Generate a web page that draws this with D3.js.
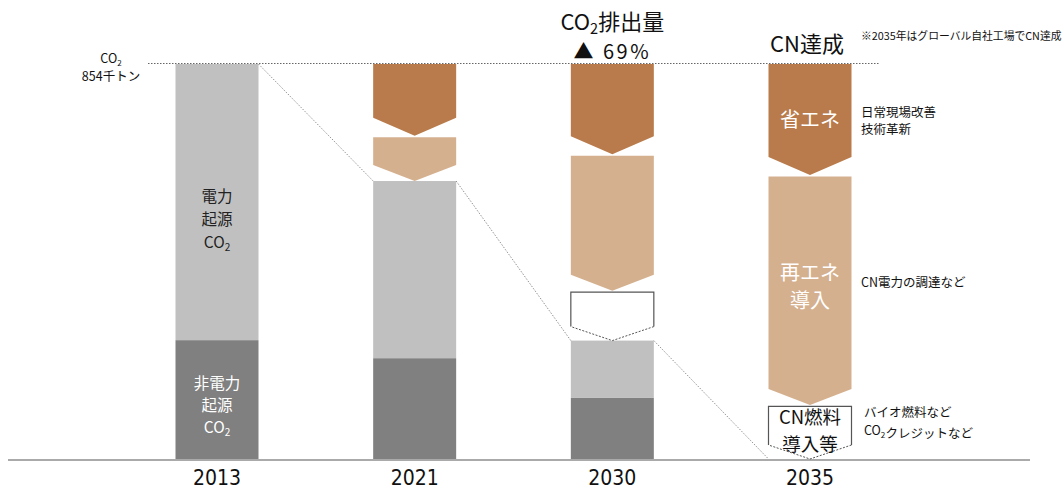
<!DOCTYPE html>
<html><head><meta charset="utf-8">
<script src="https://cdn.jsdelivr.net/npm/d3@7"></script>
<style>
html,body{margin:0;padding:0;background:#fff;}
svg{display:block;font-family:"Noto Sans CJK JP","Noto Sans",sans-serif;}
</style></head>
<body>
<svg id="chart" width="1063" height="490"></svg>
<script>
// ---- data (thousand tonnes CO2) ----
const years = ["2013", "2021", "2030", "2035"];
const nonElectric = [257, 218, 132, 0];
const electric = [597, 383, 124, 0];
const energySaving = [0, 155, 195, 240];
const renewable = [0, 98, 295, 497];
const cnFuel = [0, 0, 108, 117];
const baseTotal = 854;

const svg = d3.select("#chart");
const y = d3.scaleLinear().domain([0, baseTotal]).range([459, 64]);
const x = d3.scalePoint().domain(years).range([217, 810]);
const bw = 83;

const C = {brown:"#b97b4b", tan:"#d5b08f", light:"#c0c0c0", dark:"#808080"};

// baseline
svg.append("line").attr("x1", 8).attr("x2", 1030).attr("y1", y(0) + 1).attr("y2", y(0) + 1)
  .attr("stroke", "#aaa").attr("stroke-width", 2);

// top dotted line
svg.append("line").attr("x1", 148).attr("x2", 880).attr("y1", y(baseTotal) - 0.5).attr("y2", y(baseTotal) - 0.5)
  .attr("stroke", "#666").attr("stroke-width", 1).attr("stroke-dasharray", "1.5,1.5");

function chevron(x0, top, bottom, depth) {
  const x1 = x0 + bw, xm = x0 + bw / 2;
  return `M${x0},${top}L${x1},${top}L${x1},${bottom - depth}L${xm},${bottom}L${x0},${bottom - depth}Z`;
}

years.forEach((yr, i) => {
  const x0 = x(yr) - bw / 2;
  const g = svg.append("g");
  const remain = nonElectric[i] + electric[i];
  if (nonElectric[i] > 0) {
    g.append("rect").attr("x", x0).attr("width", bw)
      .attr("y", y(nonElectric[i])).attr("height", y(0) - y(nonElectric[i])).attr("fill", C.dark);
  }
  if (electric[i] > 0) {
    g.append("rect").attr("x", x0).attr("width", bw)
      .attr("y", y(remain)).attr("height", y(nonElectric[i]) - y(remain)).attr("fill", C.light);
  }
  let cur = baseTotal;
  let first = true;
  const segs = [
    {v: energySaving[i], fill: C.brown, depth: 18},
    {v: renewable[i], fill: C.tan, depth: 16},
    {v: cnFuel[i], fill: "#fff", depth: 14, outline: true}
  ];
  segs.forEach(s => {
    if (s.v <= 0) return;
    const top = y(cur) + (first ? 0 : 1.5);
    const bottom = y(cur - s.v);
    if (s.outline) {
      const x1 = x0 + bw, xm = x0 + bw / 2;
      g.append("path").attr("d", chevron(x0, top, bottom, s.depth)).attr("fill", "#fff");
      g.append("path").attr("d", `M${x0},${bottom - s.depth}L${x0},${top}L${x1},${top}L${x1},${bottom - s.depth}`)
        .attr("fill", "none").attr("stroke", "#555").attr("stroke-width", 1.2);
      g.append("path").attr("d", `M${x1},${bottom - s.depth}L${xm},${bottom}L${x0},${bottom - s.depth}`)
        .attr("fill", "none").attr("stroke", "#555").attr("stroke-width", 1).attr("stroke-dasharray", "2,1.5");
    } else {
      g.append("path").attr("d", chevron(x0, top, bottom, s.depth)).attr("fill", s.fill);
    }
    cur -= s.v;
    first = false;
  });
});

// diagonal dotted connectors
for (let i = 0; i < years.length - 1; i++) {
  const r0 = nonElectric[i] + electric[i];
  const r1 = nonElectric[i + 1] + electric[i + 1];
  svg.append("line")
    .attr("x1", x(years[i]) + bw / 2).attr("y1", y(r0))
    .attr("x2", x(years[i + 1]) - bw / 2).attr("y2", y(r1))
    .attr("stroke", "#777").attr("stroke-width", 0.8).attr("stroke-dasharray", "1.5,1.5");
}

// year labels
svg.append("g").selectAll("text").data(years).join("text")
  .attr("x", d => x(d)).attr("y", 485).attr("text-anchor", "middle")
  .style("font-family", "'Liberation Sans Narrow','DejaVu Sans Condensed',sans-serif")
  .style("font-size", "21px").attr("fill", "#111").text(d => d);

function label(lines, cx, cy0, lh, size, fill, anchor) {
  const t = svg.append("text").attr("text-anchor", anchor || "middle")
    .style("font-size", size + "px").attr("fill", fill);
  lines.forEach((ln, k) => {
    const ts = t.append("tspan").attr("x", cx).attr("y", cy0 + k * lh);
    if (Array.isArray(ln)) {
      ln.forEach(p => {
        if (p.sub) ts.append("tspan").attr("dy", size * 0.22).style("font-size", (size * 0.65) + "px").text(p.t);
        else ts.append("tspan").attr("dy", 0).text(p.t);
      });
    } else ts.text(ln);
  });
  return t;
}

// left label
label([[{t:"CO"},{t:"2",sub:true}]], 111, 63, 0, 12.5, "#111");
label(["854千トン"], 111, 81, 0, 12.5, "#111");

// 2013 bar labels
const c13 = x("2013");
label(["電力", "起源", [{t:"CO"},{t:"2",sub:true}]], c13, 202, 23, 15.5, "#222");
label(["非電力", "起源", [{t:"CO"},{t:"2",sub:true}]], c13, 389, 22, 15.5, "#fff");

// 2030 title
const t1 = svg.append("text").attr("x", x("2030")).attr("y", 30).attr("text-anchor", "middle")
  .style("font-size", "22px").attr("fill", "#111");
t1.append("tspan").text("CO");
t1.append("tspan").attr("dy", 4).style("font-size", "14.5px").text("2");
t1.append("tspan").attr("dy", -4).text("排出量");
svg.append("text").attr("x", x("2030")).attr("y", 59).attr("text-anchor", "middle")
  .style("font-size", "20px").style("letter-spacing", "2.5px").attr("fill", "#111").text("▲ 69%");

// 2035 title
svg.append("text").attr("x", 770).attr("y", 52).style("font-size", "22px").attr("fill", "#111").text("CN達成");
svg.append("text").attr("x", 861).attr("y", 40).style("font-size", "10.8px").attr("fill", "#111")
  .text("※2035年はグローバル自社工場でCN達成");

// 2035 in-bar labels
const c35 = x("2035");
label(["省エネ"], c35, 127, 0, 20, "#fff");
label(["再エネ", "導入"], c35, 280, 28, 20, "#fff");
label(["CN燃料"], c35, 424, 0, 18.5, "#111");
label(["導入等"], c35, 451, 0, 18.5, "#111");

// right annotations
label(["日常現場改善"], 861, 117, 0, 12.5, "#111", "start");
label(["技術革新"], 861, 134, 0, 12.5, "#111", "start");
label(["CN電力の調達など"], 861, 287, 0, 12.5, "#111", "start");
label(["バイオ燃料など"], 864, 417, 0, 12.5, "#111", "start");
label([[{t:"CO"},{t:"2",sub:true},{t:"クレジットなど"}]], 864, 435, 0, 12.5, "#111", "start");
</script>
</body></html>
